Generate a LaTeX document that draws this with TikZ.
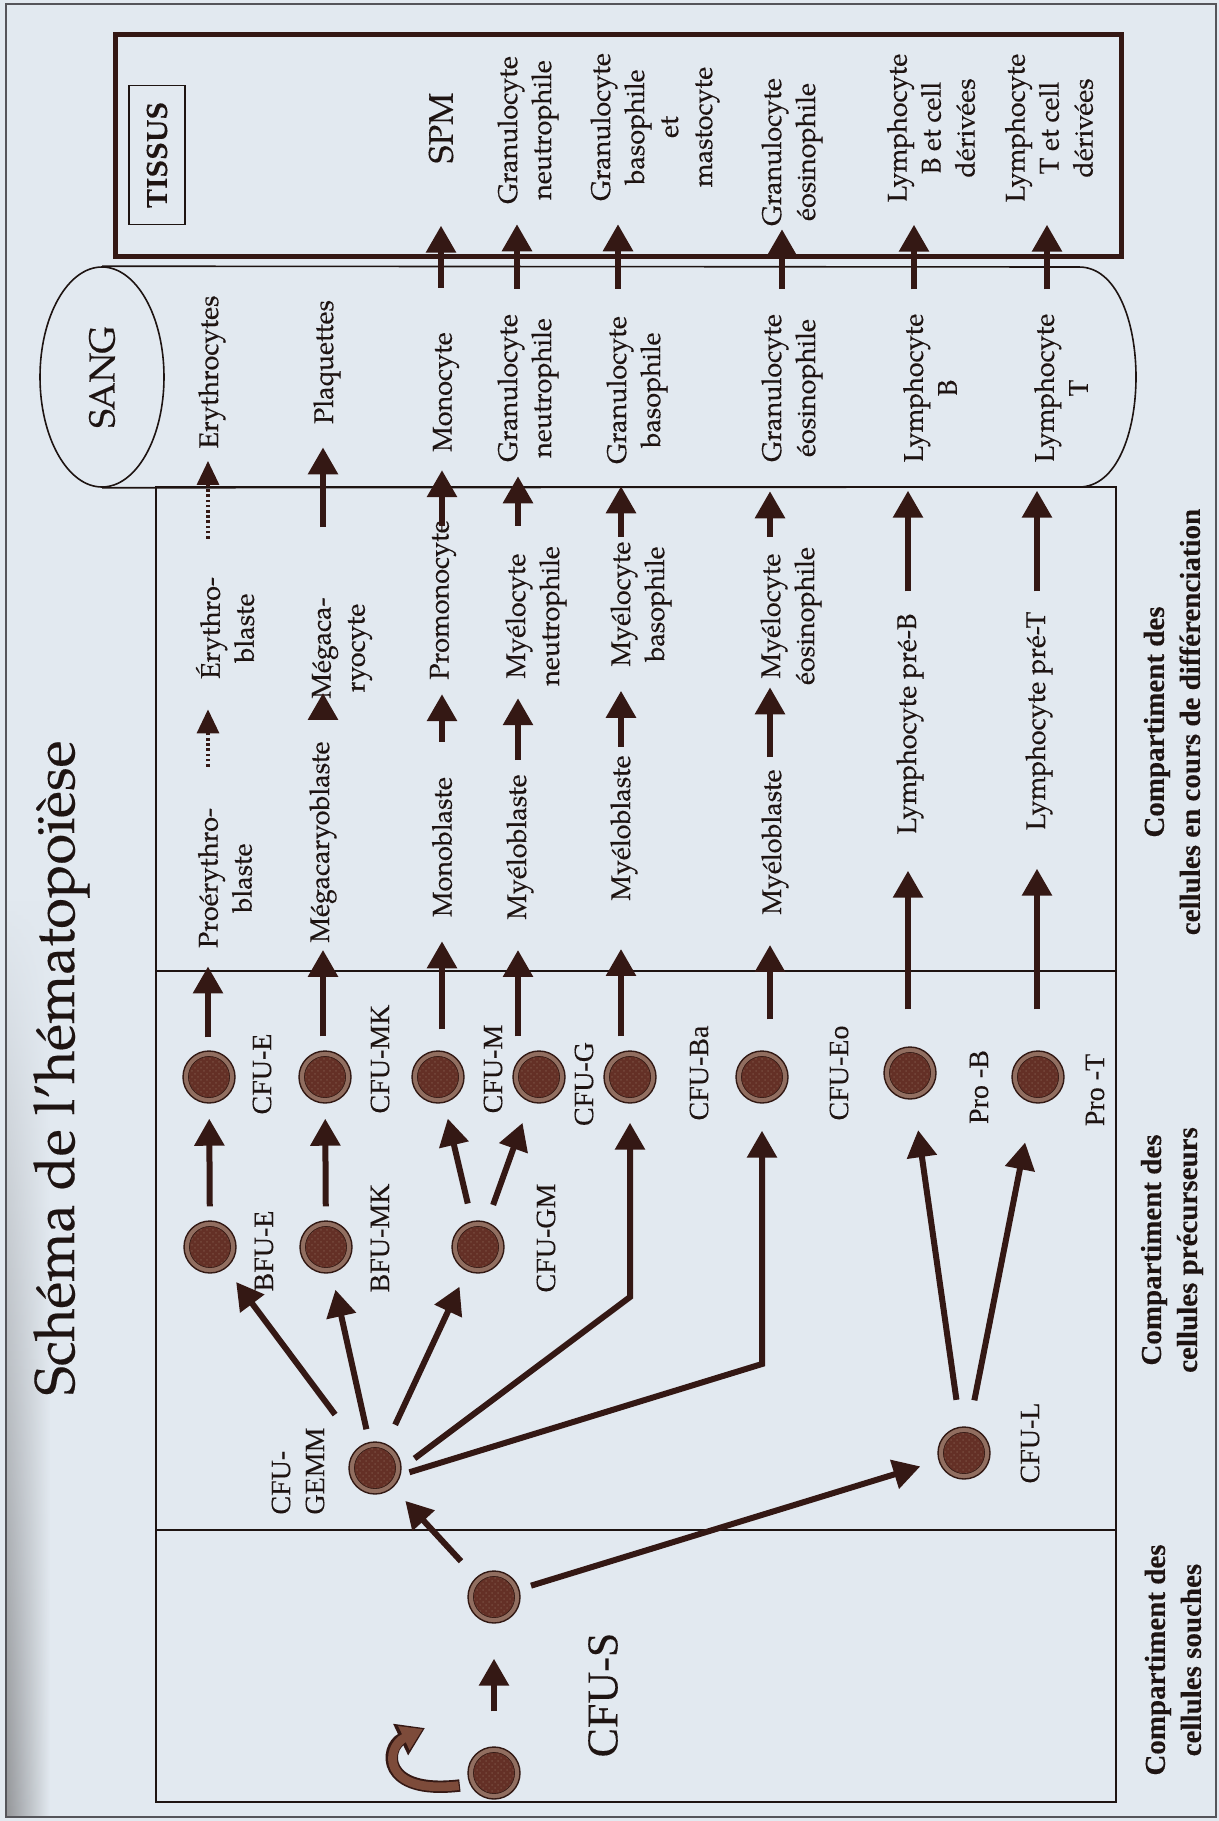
\documentclass[tikz,border=0pt]{standalone}
\usepackage{fontspec}
\setmainfont{TeX Gyre Pagella}[FakeBold=0.3]
\newfontfamily\tms{Liberation Serif}[FakeBold=0.2]
\usetikzlibrary{arrows.meta,shapes.geometric,patterns,fadings}
\definecolor{bg}{RGB}{226,233,240}
\definecolor{ink}{RGB}{30,20,18}
\definecolor{arrowbrown}{RGB}{52,24,20}
\definecolor{celledge}{RGB}{50,25,20}
\definecolor{cellring}{RGB}{145,110,96}
\definecolor{cellcore}{RGB}{100,48,38}
\definecolor{renewbrown}{RGB}{125,75,58}
\definecolor{pageedge}{RGB}{85,85,90}
\tikzset{
  lbl/.style={rotate=90, inner sep=0pt, align=center, text=ink, font=\fontsize{13.5}{17}\selectfont},
  cfulbl/.style={rotate=90, inner sep=0pt, text=ink, font=\tms\fontsize{14}{17}\selectfont},
  cmplbl/.style={rotate=90, inner sep=0pt, align=center, text=ink, font=\tms\bfseries\fontsize{14.5}{18}\selectfont},
  cell/.style={circle, minimum size=26pt, inner sep=0pt, draw=celledge, line width=.7pt, fill=cellring,
    path picture={
      \fill[cellcore] (path picture bounding box.center) circle (10.3pt);
      \fill[pattern=crosshatch dots, pattern color=cellring!40!cellcore] (path picture bounding box.center) circle (10.3pt);
      \draw[celledge, line width=.3pt] (path picture bounding box.center) circle (10.3pt);}},
  flow/.style={draw=arrowbrown, line width=3pt, -{Triangle[width=14.5pt,length=13.5pt]}},
  dotflow/.style={draw=arrowbrown, line width=1.6pt, dash pattern=on 1.3pt off 1.3pt, -{Triangle[width=11pt,length=12pt]}},
  frame/.style={draw=ink, line width=.8pt},
}
\begin{document}
\begin{tikzpicture}[x=0.5pt, y=-0.5pt]
  \useasboundingbox (0,0) rectangle (1219,1821);
  \fill[bg] (0,0) rectangle (1219,1821);
  \shade[left color={rgb,255:red,150;green,152;blue,155}, right color=bg, path fading=north] (7,900) rectangle (50,1816);
  \draw[draw=pageedge, line width=.8pt] (6,4) rectangle (1216,1817);
  % frames
  \draw[draw=arrowbrown, line width=2.5pt] (115,34) rectangle (1121,256);
  \draw[frame] (156,487) rectangle (1116,1802);
  \draw[frame] (156,971) -- (1116,971);
  \draw[frame] (156,1530) -- (1116,1530);
  % place nodes
  \node[rotate=90, anchor=base, inner sep=0pt, text=ink, font=\fontsize{28}{30}\selectfont] (titre) at (74,1068) {Schéma de l’hématopoïèse};
  \node[ellipse, draw=ink, line width=.8pt, rotate=90, minimum width=110pt, minimum height=62pt, inner sep=0pt,
        text=ink, font=\fontsize{18}{20}\selectfont] (SANG) at (102,377) {SANG};
  \node[draw=ink, line width=.6pt, rotate=90, minimum width=69.5pt, minimum height=28pt, inner sep=0pt,
        text=ink, font=\bfseries\fontsize{14.5}{16}\selectfont] (TISSUS) at (157,155) {TISSUS};
  % tissus
  \node[lbl, font=\fontsize{17}{18}\selectfont] (SPM) at (441,128) {SPM};
  \node[lbl] (GNtis) at (528,130) {Granulocyte\\neutrophile};
  \node[lbl] (GBtis) at (655,127) {Granulocyte\\basophile\\et\\mastocyte};
  \node[lbl] (GEtis) at (792,152) {Granulocyte\\éosinophile};
  \node[lbl] (LBtis) at (931,128) {Lymphocyte\\B et cell\\dérivées};
  \node[lbl] (LTtis) at (1049,128) {Lymphocyte\\T et cell\\dérivées};
  % sang
  \node[lbl] (Erythrocytes) at (212,372) {Erythrocytes};
  \node[lbl] (Plaquettes) at (327,362) {Plaquettes};
  \node[lbl] (Monocyte) at (446,392) {Monocyte};
  \node[lbl] (GN) at (528,388) {Granulocyte\\neutrophile};
  \node[lbl] (GB) at (637,390) {Granulocyte\\basophile};
  \node[lbl] (GE) at (792,388) {Granulocyte\\éosinophile};
  \node[lbl] (LB) at (930,388) {Lymphocyte\\B};
  \node[lbl] (LT) at (1061,388) {Lymphocyte\\T};
  % cellules en cours de differenciation
  \node[lbl] (Proerythro) at (225,878) {Proérythro-\\blaste};
  \node[lbl] (Erythro) at (225,628) {Érythro-\\blaste};
  \node[lbl] (Megablaste) at (323,842) {Mégacaryoblaste};
  \node[lbl] (Megacyte) at (342,648) {Mégaca-\\ryocyte};
  \node[lbl] (Monoblaste) at (442,847) {Monoblaste};
  \node[lbl] (Promonocyte) at (443,600) {Promonocyte};
  \node[lbl] (MyeloblN) at (520,847) {Myéloblaste};
  \node[lbl] (MyelocN) at (536,616) {Myélocyte\\neutrophile};
  \node[lbl] (MyeloblB) at (624,828) {Myéloblaste};
  \node[lbl] (MyelocB) at (641,604) {Myélocyte\\basophile};
  \node[lbl] (MyeloblE) at (775,842) {Myéloblaste};
  \node[lbl] (MyelocE) at (791,616) {Myélocyte\\éosinophile};
  \node[lbl] (PreB) at (910,724) {Lymphocyte pré-B};
  \node[lbl] (PreT) at (1039,721) {Lymphocyte pré-T};
  % precurseurs et cellules souches
  \node[cell] (CFUE) at (209,1077) {};
  \node[cell] (CFUMK) at (325,1077) {};
  \node[cell] (CFUM) at (438,1077) {};
  \node[cell] (CFUG) at (539,1077) {};
  \node[cell] (CFUBa) at (630,1077) {};
  \node[cell] (CFUEo) at (762,1077) {};
  \node[cell] (ProB) at (910,1073) {};
  \node[cell] (ProT) at (1038,1077) {};
  \node[cell] (BFUE) at (210,1247) {};
  \node[cell] (BFUMK) at (326,1247) {};
  \node[cell] (CFUGM) at (478,1247) {};
  \node[cell] (GEMM) at (375,1468) {};
  \node[cell] (CFUL) at (964,1453) {};
  \node[cell] (CFUS) at (494,1597) {};
  \node[cell] (CFU0) at (494,1773) {};
  \node[cfulbl] (lCFUE) at (262,1074) {CFU-E};
  \node[cfulbl] (lCFUMK) at (380,1059) {CFU-MK};
  \node[cfulbl] (lCFUM) at (493,1069) {CFU-M};
  \node[cfulbl] (lCFUG) at (584,1084) {CFU-G};
  \node[cfulbl] (lCFUBa) at (699,1073) {CFU-Ba};
  \node[cfulbl] (lCFUEo) at (839,1073) {CFU-Eo};
  \node[cfulbl] (lProB) at (979,1087) {Pro -B};
  \node[cfulbl] (lProT) at (1095,1090) {Pro -T};
  \node[cfulbl] (lBFUE) at (264,1251) {BFU-E};
  \node[cfulbl] (lBFUMK) at (380,1238) {BFU-MK};
  \node[cfulbl] (lCFUGM) at (546,1238) {CFU-GM};
  \node[cfulbl, align=left] (lGEMM) at (298,1471) {CFU-\\GEMM};
  \node[cfulbl] (lCFUL) at (1030,1443) {CFU-L};
  \node[cfulbl, font=\tms\fontsize{22}{24}\selectfont] (lCFUS) at (603,1695) {CFU-S};
  % compartiments
  \node[cmplbl] (CmpDiff) at (1172,722) {Compartiment des\\cellules en cours de différenciation};
  \node[cmplbl] (CmpPrec) at (1172,1250) {Compartiment des\\cellules précurseurs};
  \node[cmplbl] (CmpSouch) at (1173,1660) {Compartiment des\\cellules souches};
  % sang tube
  \draw[frame] (SANG.east) -- (1079,267) .. controls (1155,267) and (1155,487) .. (1079,487) -- (SANG.west);
  \foreach \n/\x in {1/208,2/323,3/442,4/518,5/621,6/770,7/908,8/1037} \coordinate (c\n) at (\x,0);
  \foreach \n/\x in {3/441,4/517,5/618,6/782,7/914,8/1047} \coordinate (t\n) at (\x,0);
  \coordinate (kBa) at (630,1297);
  \coordinate (kEo) at (762,1364);
  % draw edges
  \draw[flow, shorten <=6.5pt, shorten >=9pt] (CFUE.north -| c1) -- (Proerythro.west -| c1);
  \draw[dotflow, shorten <=20.5pt, shorten >=15pt] (Proerythro.east -| c1) -- (Erythro.west -| c1);
  \draw[dotflow, shorten <=19pt, shorten >=6pt] (Erythro.east -| c1) -- (Erythrocytes.west -| c1);
  \draw[flow, shorten <=7pt, shorten >=3.5pt] (CFUMK.north -| c2) -- (Megablaste.west -| c2);
  \draw[flow, shorten <=14.5pt, shorten >=-3pt] (Megablaste.east -| c2) -- (Megacyte.west -| c2);
  \draw[flow, shorten <=35pt, shorten >=11.5pt] (Megacyte.east -| c2) -- (Plaquettes.west -| c2);
  \draw[flow, shorten <=10.5pt, shorten >=12pt] (CFUM.north -| c3) -- (Monoblaste.west -| c3);
  \draw[flow, shorten <=17.5pt, shorten >=7pt] (Monoblaste.east -| c3) -- (Promonocyte.west -| c3);
  \draw[flow, shorten <=-3pt, shorten >=9pt] (Promonocyte.east -| c3) -- (Monocyte.west -| c3);
  \draw[flow, shorten <=22pt, shorten >=31pt] (Monocyte.east -| t3) -- (SPM.west -| t3);
  \draw[flow, shorten <=7pt, shorten >=15pt] (CFUG.north -| c4) -- (MyeloblN.west -| c4);
  \draw[flow, shorten <=7pt, shorten >=6pt] (MyeloblN.east -| c4) -- (MyelocN.west -| c4);
  \draw[flow, shorten <=10pt, shorten >=7pt] (MyelocN.east -| c4) -- (GN.west -| c4);
  \draw[flow, shorten <=12.5pt, shorten >=10pt] (GN.east -| t4) -- (GNtis.west -| t4);
  \draw[flow, shorten <=7pt, shorten >=24pt] (CFUBa.north -| c5) -- (MyeloblB.west -| c5);
  \draw[flow, shorten <=4pt, shorten >=12pt] (MyeloblB.east -| c5) -- (MyelocB.west -| c5);
  \draw[flow, shorten <=2pt, shorten >=11pt] (MyelocB.east -| c5) -- (GB.west -| c5);
  \draw[flow, shorten <=13.5pt, shorten >=11.5pt] (GB.east -| t5) -- (GBtis.west -| t5);
  \draw[flow, shorten <=15.5pt, shorten >=15pt] (CFUEo.north -| c6) -- (MyeloblE.west -| c6);
  \draw[flow, shorten <=6pt, shorten >=1pt] (MyeloblE.east -| c6) -- (MyelocE.west -| c6);
  \draw[flow, shorten <=5pt, shorten >=14.5pt] (MyelocE.east -| c6) -- (GE.west -| c6);
  \draw[flow, shorten <=12.5pt, shorten >=1.5pt] (GE.east -| t6) -- (GEtis.west -| t6);
  \draw[flow, shorten <=18.5pt, shorten >=18pt] (ProB.north -| c7) -- (PreB.west -| c7);
  \draw[flow, shorten <=11pt, shorten >=14pt] (PreB.east -| c7) -- (LB.west -| c7);
  \draw[flow, shorten <=12pt, shorten >=11pt] (LB.east -| t7) -- (LBtis.west -| t7);
  \draw[flow, shorten <=20.5pt, shorten >=19pt] (ProT.north -| c8) -- (PreT.west -| c8);
  \draw[flow, shorten <=10pt, shorten >=14pt] (PreT.east -| c8) -- (LT.west -| c8);
  \draw[flow, shorten <=12pt, shorten >=11pt] (LT.east -| t8) -- (LTtis.west -| t8);
  \draw[flow, shorten <=7pt, shorten >=7.5pt] (BFUE) -- (CFUE);
  \draw[flow, shorten <=7pt, shorten >=7.5pt] (BFUMK) -- (CFUMK);
  \draw[flow, shorten <=9pt, shorten >=8pt] (CFUGM) -- (CFUM);
  \draw[flow, shorten <=9pt, shorten >=11pt] (CFUGM) -- (CFUG);
  \draw[flow, shorten <=20pt, shorten >=8.5pt] (GEMM) -- (BFUE);
  \draw[flow, shorten <=6.5pt, shorten >=8.5pt] (GEMM) -- (BFUMK);
  \draw[flow, shorten <=10.5pt, shorten >=8.5pt] (GEMM) -- (CFUGM);
  \draw[flow, shorten <=8pt, shorten >=9.5pt] (GEMM.0) -- (kBa) -- (CFUBa);
  \draw[flow, shorten <=4.5pt, shorten >=13.5pt] (GEMM.-15) -- (kEo) -- (CFUEo);
  \draw[flow, shorten <=11pt, shorten >=9pt] (CFUS) -- (GEMM);
  \draw[flow, shorten <=6pt, shorten >=9.5pt] (CFUS) -- (CFUL);
  \draw[flow, shorten <=13.5pt, shorten >=15.5pt] (CFUL) -- (ProB);
  \draw[flow, shorten <=13.5pt, shorten >=20pt] (CFUL) -- (ProT);
  \draw[flow, shorten <=17.5pt, shorten >=17.5pt] (CFU0) -- (CFUS);
  % auto-renouvellement
  \draw[draw=arrowbrown, line width=6.2pt, shorten <=5pt, -{Triangle[width=16.5pt,length=13.5pt]}]
    (CFU0.205) .. controls (380,1795) and (385,1747) .. (425,1728);
  \draw[draw=renewbrown, line width=4.4pt, shorten <=5.6pt, shorten >=1.2pt, -{Triangle[width=12.5pt,length=10.5pt]}]
    (CFU0.205) .. controls (380,1795) and (385,1747) .. (425,1728);
\end{tikzpicture}
\end{document}
